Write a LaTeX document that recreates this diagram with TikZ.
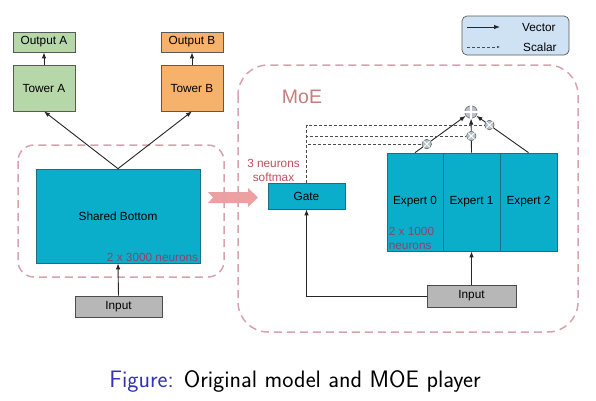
\documentclass[tikz,border=0pt]{standalone}
\usepackage{fontspec}
\setmainfont{Liberation Sans}
\usetikzlibrary{arrows.meta,positioning}
\definecolor{teal}{HTML}{0AAECA}
\definecolor{tealb}{HTML}{1B6E83}
\definecolor{grn}{HTML}{B6D7A8}
\definecolor{org}{HTML}{F6B26B}
\definecolor{gry}{HTML}{B7B7B7}
\definecolor{lgd}{HTML}{CFE2F3}
\definecolor{dpink}{HTML}{D9A3AC}
\definecolor{moec}{HTML}{C47E7E}
\definecolor{neur}{HTML}{C24E5E}
\definecolor{neurb}{HTML}{8C4468}
\definecolor{bigp}{HTML}{EDA0A2}
\definecolor{capb}{HTML}{3333B3}
\definecolor{circf}{HTML}{B8C2CE}
\begin{document}
\begin{tikzpicture}[x=1pt,y=-1pt,
  box/.style={draw=#1, line width=0.7pt, inner sep=0pt, font=\fontsize{11.8}{14}\selectfont},
  vec/.style={draw=black!85, line width=0.9pt, -{Latex[length=6pt,width=4.5pt]}},
  sc/.style={draw=black!70, line width=0.5pt, densely dashed},
  grp/.style={draw=dpink, line width=1.5pt, dash pattern=on 8pt off 5pt},
  mult/.style={circle, draw=gray!80!black, fill=circf, line width=0.6pt, minimum size=9.5pt, inner sep=0pt},
  sumc/.style={circle, draw=gray!80!black, fill=circf, line width=0.6pt, minimum size=12.5pt, inner sep=0pt},
  nl/.style={font=\fontsize{11.8}{14}\selectfont}
]
\useasboundingbox (0,0) rectangle (596,400);
\fill[white] (0,0) rectangle (596,400);

% big pink arrow
\fill[bigp] (208,192) -- (248,192) -- (248,188) -- (258,197.5) -- (248,207) -- (248,203) -- (208,203) -- (213,197.5) -- cycle;

% group boxes
\draw[grp, rounded corners=16pt] (18,145) rectangle (224,277);
\draw[grp, rounded corners=30pt] (238,65) rectangle (578,332);
\node[nl, text=moec, font=\fontsize{19.5}{22}\selectfont] (moe) at (302,97) {MoE};

% left model
\node[box=gray!70!black, fill=grn, minimum width=62pt, minimum height=20pt] (outA) at (44,42) {Output A};
\node[box=gray!70!black, fill=grn, minimum width=62pt, minimum height=46pt] (towA) at (44,88) {Tower A};
\node[box=gray!70!black, fill=org, minimum width=62pt, minimum height=20pt] (outB) at (192,42) {Output B};
\node[box=gray!70!black, fill=org, minimum width=62pt, minimum height=46pt] (towB) at (192,88) {Tower B};
\node[box=tealb, fill=teal, minimum width=164pt, minimum height=94pt] (shared) at (118,216) {Shared Bottom};
\node[nl, text=neurb, anchor=south east, inner sep=2pt] (n3000) at (shared.south east) {2 x 3000 neurons};
\node[box=gray!60!black, fill=gry, minimum width=87pt, minimum height=21pt] (inL) at (118.5,306.5) {Input};

\draw[vec] (towA.north) -- (outA.south);
\draw[vec] (towB.north) -- (outB.south);
\draw[vec] (shared.north) -- (towA.south);
\draw[vec] (shared.north) -- (towB.south);
\draw[vec] (inL.north) -- (shared.south);

% MoE
\node[box=tealb, fill=teal, minimum width=77pt, minimum height=26pt] (gate) at (306.5,196) {Gate};
\node[nl, text=neur, align=center, inner sep=0pt] (soft) at (273.5,170) {3 neurons\\softmax};
\node[box=tealb, fill=teal, minimum width=56pt, minimum height=98pt] (e0) at (415,202) {Expert 0};
\node[box=tealb, fill=teal, minimum width=57pt, minimum height=98pt] (e1) at (471.5,202) {Expert 1};
\node[box=tealb, fill=teal, minimum width=57pt, minimum height=98pt] (e2) at (528.5,202) {Expert 2};
\node[nl, text=neurb, align=left, anchor=south west, inner sep=2pt] (n1000) at (e0.south west) {2 x 1000\\neurons};
\node[box=gray!60!black, fill=gry, minimum width=89pt, minimum height=22pt] (inR) at (471.5,296) {Input};

\node[sumc] (sum) at (471,112) {};
\path (e0.north) -- (sum.center) coordinate[pos=0.21] (c0);
\path (e1.north) -- (sum.center) coordinate[pos=0.41] (c1);
\path (e2.north) -- (sum.center) coordinate[pos=0.68] (c2);

\draw[vec] (inR.north) -- (e1.south);
\draw[vec] (inR.west) -| (gate.south);
\draw[vec] (e0.north) -- (sum);
\draw[vec] (e1.north) -- (sum);
\draw[vec] (e2.north) -- (sum);

\node[mult] (m0) at (c0) {};
\node[mult] (m1) at (c1) {};
\node[mult] (m2) at (c2) {};
\foreach \m in {m0,m1,m2}{
  \draw[white, line width=0.9pt] (\m.north west) -- (\m.south east) (\m.north east) -- (\m.south west);
}
\draw[white, line width=1.3pt] (sum.north) -- (sum.south) (sum.west) -- (sum.east);

\draw[sc] (gate.north) |- (m2.west);
\draw[sc] (gate.north) |- (m1.west);
\draw[sc] (gate.north) |- (m0.west);

% legend
\node[draw=gray!70!black, fill=lgd, rounded corners=5pt, line width=0.7pt, minimum width=107pt, minimum height=39pt] (leg) at (515.5,35.5) {};
\coordinate (v1) at (467,27); \coordinate (v2) at (500,27);
\coordinate (s1) at (467,47); \coordinate (s2) at (500,47);
\draw[vec] (v1) -- (v2);
\draw[sc, -{Latex[length=3pt,width=2.5pt]}] (s1) -- (s2);
\node[nl, anchor=west, inner sep=0pt] (vt) at (522,27) {Vector};
\node[nl, anchor=west, inner sep=0pt] (st) at (523,47) {Scalar};

% caption
\node[font=\sffamily\fontsize{23.8}{28}\selectfont, inner sep=0pt] (cap) at (295,381) {\textcolor{capb}{Figure:} Original model and MOE player};
\end{tikzpicture}
\end{document}
